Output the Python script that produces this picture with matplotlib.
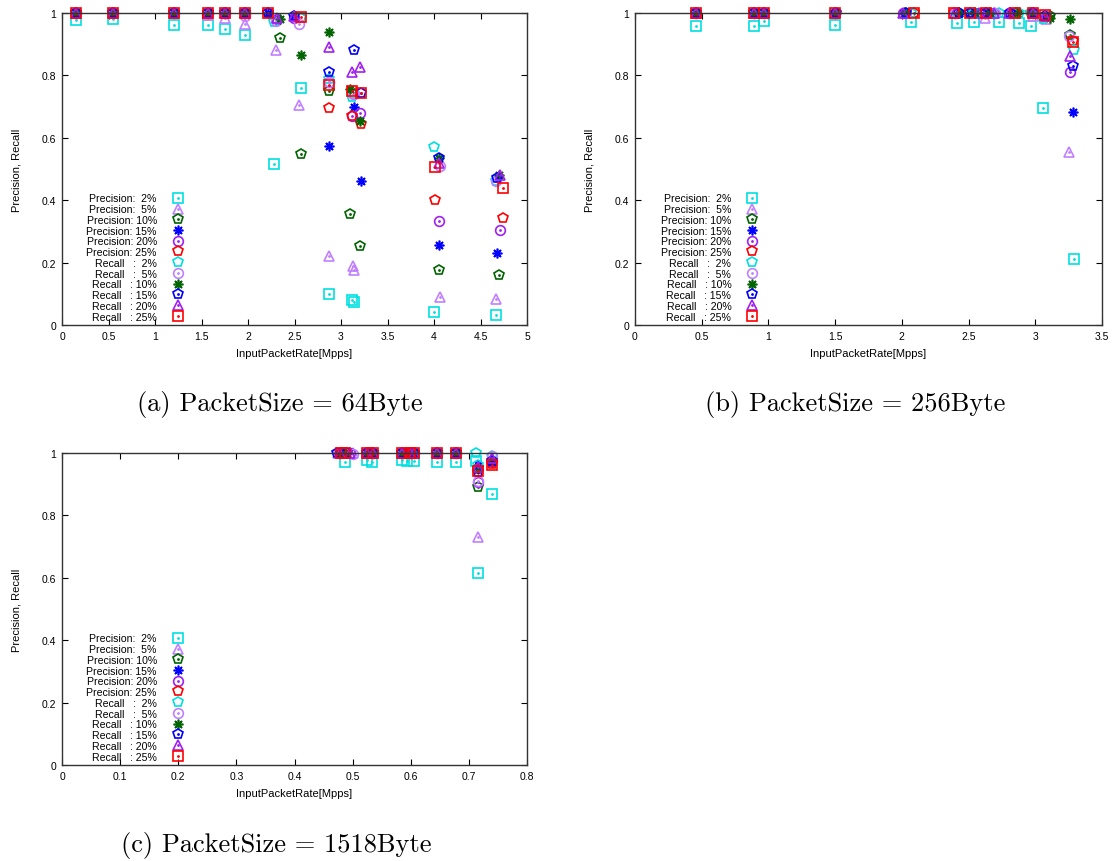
import matplotlib
matplotlib.use("Agg")
import matplotlib.pyplot as plt
from matplotlib.ticker import MultipleLocator, FormatStrFormatter
from matplotlib.legend_handler import HandlerTuple

plt.rcParams['font.family'] = ['Liberation Sans', 'DejaVu Sans']

percents = ['2%', '5%', '10%', '15%', '20%', '25%']

# ---- (a) PacketSize = 64Byte ----
a_x = {
    '2%':  [0.15, 0.55, 1.2, 1.57, 1.75, 1.97, 2.28, 2.57, 2.87, 3.12, 3.14, 4.0, 4.67],
    '5%':  [0.15, 0.55, 1.2, 1.57, 1.75, 1.97, 2.30, 2.55, 2.87, 3.13, 3.14, 4.06, 4.67],
    '10%': [0.15, 0.55, 1.2, 1.57, 1.75, 1.97, 2.34, 2.57, 2.87, 3.10, 3.20, 4.05, 4.70],
    '15%': [0.15, 0.55, 1.2, 1.57, 1.75, 1.97, 2.22, 2.49, 2.87, 3.14, 3.21, 4.05, 4.68],
    '20%': [0.15, 0.55, 1.2, 1.57, 1.75, 1.97, 2.31, 2.49, 2.87, 3.12, 3.20, 4.05, 4.71],
    '25%': [0.15, 0.55, 1.2, 1.57, 1.75, 1.97, 2.22, 2.57, 2.87, 3.12, 3.22, 4.01, 4.74],
}
a_prec = {
    '2%':  [0.977, 0.98, 0.962, 0.96, 0.95, 0.93, 0.516, 0.76, 0.10, 0.08, 0.075, 0.043, 0.032],
    '5%':  [1.0, 1.0, 1.0, 0.995, 0.985, 0.965, 0.88, 0.705, 0.22, 0.19, 0.175, 0.089, 0.083],
    '10%': [1.0, 1.0, 1.0, 1.0, 1.0, 1.0, 0.92, 0.548, 0.75, 0.356, 0.252, 0.177, 0.16],
    '15%': [1.0, 1.0, 1.0, 1.0, 1.0, 1.0, 1.0, 0.99, 0.573, 0.70, 0.46, 0.257, 0.23],
    '20%': [1.0, 1.0, 1.0, 1.0, 1.0, 1.0, 0.98, 0.985, 0.78, 0.67, 0.678, 0.334, 0.304],
    '25%': [1.0, 1.0, 1.0, 1.0, 1.0, 1.0, 1.0, 0.985, 0.695, 0.67, 0.644, 0.40, 0.343],
}
a_rec = {
    '2%':  [1.0, 1.0, 1.0, 1.0, 1.0, 1.0, 0.97, 0.985, 0.79, 0.73, 0.74, 0.572, 0.46],
    '5%':  [1.0, 1.0, 1.0, 1.0, 1.0, 0.99, 0.975, 0.965, 0.78, 0.74, 0.74, 0.51, 0.46],
    '10%': [1.0, 1.0, 1.0, 1.0, 1.0, 1.0, 0.98, 0.865, 0.94, 0.756, 0.655, 0.534, 0.482],
    '15%': [1.0, 1.0, 1.0, 1.0, 1.0, 1.0, 1.0, 0.99, 0.81, 0.882, 0.742, 0.534, 0.47],
    '20%': [1.0, 1.0, 1.0, 1.0, 1.0, 1.0, 0.985, 0.99, 0.89, 0.812, 0.828, 0.52, 0.482],
    '25%': [1.0, 1.0, 1.0, 1.0, 1.0, 1.0, 1.0, 0.987, 0.77, 0.75, 0.742, 0.507, 0.44],
}

# ---- (b) PacketSize = 256Byte ----
b_x = {
    '2%':  [0.46, 0.89, 0.97, 1.50, 2.07, 2.41, 2.54, 2.73, 2.88, 2.97, 3.06, 3.29],
    '5%':  [0.46, 0.89, 0.97, 1.50, 2.03, 2.40, 2.62, 2.70, 2.82, 2.98, 3.08, 3.25],
    '10%': [0.46, 0.89, 0.97, 1.50, 2.02, 2.43, 2.55, 2.66, 2.86, 2.97, 3.11, 3.26],
    '15%': [0.46, 0.89, 0.97, 1.51, 2.03, 2.43, 2.51, 2.63, 2.81, 2.98, 3.07, 3.28],
    '20%': [0.46, 0.89, 0.97, 1.50, 2.01, 2.40, 2.58, 2.69, 2.80, 2.98, 3.07, 3.26],
    '25%': [0.46, 0.89, 0.97, 1.50, 2.09, 2.39, 2.51, 2.63, 2.85, 2.98, 3.07, 3.28],
}
b_prec = {
    '2%':  [0.957, 0.958, 0.973, 0.96, 0.97, 0.967, 0.97, 0.97, 0.967, 0.958, 0.695, 0.21],
    '5%':  [1.0, 1.0, 1.0, 1.0, 1.0, 1.0, 0.985, 1.0, 1.0, 0.99, 0.98, 0.553],
    '10%': [1.0, 1.0, 1.0, 1.0, 1.0, 1.0, 1.0, 1.0, 1.0, 1.0, 0.99, 0.93],
    '15%': [1.0, 1.0, 1.0, 1.0, 1.0, 1.0, 1.0, 1.0, 1.0, 1.0, 0.99, 0.682],
    '20%': [1.0, 1.0, 1.0, 1.0, 1.0, 1.0, 1.0, 1.0, 1.0, 1.0, 0.99, 0.812],
    '25%': [1.0, 1.0, 1.0, 1.0, 1.0, 1.0, 1.0, 1.0, 1.0, 1.0, 0.99, 0.91],
}
b_rec = {
    '2%':  [1.0, 1.0, 1.0, 1.0, 1.0, 1.0, 1.0, 1.0, 1.0, 1.0, 0.98, 0.88],
    '5%':  [1.0, 1.0, 1.0, 1.0, 1.0, 1.0, 1.0, 1.0, 1.0, 1.0, 0.99, 0.925],
    '10%': [1.0, 1.0, 1.0, 1.0, 1.0, 1.0, 1.0, 1.0, 1.0, 1.0, 0.985, 0.98],
    '15%': [1.0, 1.0, 1.0, 1.0, 1.0, 1.0, 1.0, 1.0, 1.0, 1.0, 0.99, 0.831],
    '20%': [1.0, 1.0, 1.0, 1.0, 1.0, 1.0, 1.0, 1.0, 1.0, 1.0, 0.99, 0.863],
    '25%': [1.0, 1.0, 1.0, 1.0, 1.0, 1.0, 1.0, 1.0, 1.0, 1.0, 0.995, 0.908],
}

# ---- (c) PacketSize = 1518Byte ----
c_x = {
    '2%':  [0.487, 0.524, 0.533, 0.585, 0.593, 0.605, 0.646, 0.677, 0.712, 0.715, 0.739],
    '5%':  [0.475, 0.501, 0.524, 0.535, 0.585, 0.599, 0.605, 0.646, 0.677, 0.715, 0.739],
    '10%': [0.480, 0.487, 0.524, 0.535, 0.585, 0.599, 0.605, 0.646, 0.677, 0.715, 0.739],
    '15%': [0.473, 0.490, 0.524, 0.535, 0.585, 0.599, 0.605, 0.646, 0.677, 0.715, 0.739],
    '20%': [0.478, 0.495, 0.524, 0.535, 0.585, 0.599, 0.605, 0.646, 0.677, 0.715, 0.739],
    '25%': [0.480, 0.487, 0.524, 0.535, 0.585, 0.599, 0.605, 0.646, 0.677, 0.715, 0.739],
}
c_prec = {
    '2%':  [0.972, 0.978, 0.97, 0.978, 0.975, 0.975, 0.972, 0.972, 0.975, 0.614, 0.869],
    '5%':  [1.0, 1.0, 1.0, 1.0, 1.0, 1.0, 1.0, 1.0, 1.0, 0.73, 0.98],
    '10%': [1.0, 1.0, 1.0, 1.0, 1.0, 1.0, 1.0, 1.0, 1.0, 0.892, 0.97],
    '15%': [1.0, 1.0, 1.0, 1.0, 1.0, 1.0, 1.0, 1.0, 1.0, 0.962, 0.97],
    '20%': [1.0, 1.0, 1.0, 1.0, 1.0, 1.0, 1.0, 1.0, 1.0, 0.908, 0.975],
    '25%': [1.0, 1.0, 1.0, 1.0, 1.0, 1.0, 1.0, 1.0, 1.0, 0.95, 0.965],
}
c_rec = {
    '2%':  [1.0, 1.0, 1.0, 1.0, 1.0, 1.0, 1.0, 1.0, 1.0, 0.96, 0.99],
    '5%':  [1.0, 0.997, 1.0, 1.0, 1.0, 1.0, 1.0, 1.0, 1.0, 0.91, 0.991],
    '10%': [1.0, 1.0, 1.0, 1.0, 1.0, 1.0, 1.0, 1.0, 1.0, 0.95, 0.975],
    '15%': [1.0, 1.0, 1.0, 1.0, 1.0, 1.0, 1.0, 1.0, 1.0, 0.94, 0.975],
    '20%': [1.0, 1.0, 1.0, 1.0, 1.0, 1.0, 1.0, 1.0, 1.0, 0.955, 0.985],
    '25%': [1.0, 1.0, 1.0, 1.0, 1.0, 1.0, 1.0, 1.0, 1.0, 0.943, 0.96],
}

# gnuplot-like point styles: (color, marker, centre dot)
prec_style = {
    '2%':  ('#00e0e0', 's', True),
    '5%':  ('#c080ff', '^', True),
    '10%': ('#006400', 'p', True),
    '15%': ('#0000ff', (8, 2, 0), False),
    '20%': ('#a020f0', 'o', True),
    '25%': ('#ff0000', 'p', False),
}
rec_style = {
    '2%':  ('#00e0e0', 'p', False),
    '5%':  ('#c080ff', 'o', True),
    '10%': ('#006400', (8, 2, 0), False),
    '15%': ('#0000ff', 'p', True),
    '20%': ('#a020f0', '^', True),
    '25%': ('#ff0000', 's', True),
}


def draw_series(ax, x, y, style):
    color, marker, dot = style
    l1, = ax.plot(x, y, ls='none', marker=marker, ms=7, mfc='none', mec=color,
                  mew=1.2, clip_on=False)
    if dot:
        l2, = ax.plot(x, y, ls='none', marker='.', ms=2, color=color, clip_on=False)
        return (l1, l2)
    return l1


def draw_panel(rect, xs, prec, rec, xmax, xstep, caption, cap_pos, leg_x):
    ax = fig.add_axes(rect)
    handles = []
    labels = []
    for p in percents:
        handles.append(draw_series(ax, xs[p], prec[p], prec_style[p]))
        labels.append('Precision: %3s' % p)
    for p in percents:
        handles.append(draw_series(ax, xs[p], rec[p], rec_style[p]))
        labels.append('Recall   : %3s' % p)

    ax.set_xlim(0, xmax)
    ax.set_ylim(0, 1)
    ax.xaxis.set_major_locator(MultipleLocator(xstep))
    ax.yaxis.set_major_locator(MultipleLocator(0.2))
    ax.xaxis.set_major_formatter(FormatStrFormatter('%g'))
    ax.yaxis.set_major_formatter(FormatStrFormatter('%g'))
    ax.tick_params(direction='in', length=4, width=0.8, labelsize=7.5,
                   top=True, right=True, pad=4)
    for s in ax.spines.values():
        s.set_linewidth(1.0)
        s.set_color('#333333')
    ax.set_xlabel('InputPacketRate[Mpps]', fontsize=8, labelpad=5.5)
    ax.set_ylabel('Precision, Recall', fontsize=8, labelpad=15)

    ax.legend(handles, labels, loc='lower right', bbox_to_anchor=(leg_x, -0.006),
              frameon=False, markerfirst=False, fontsize=7.6, labelspacing=0.07,
              handlelength=1.0, handletextpad=1.5, borderpad=0.0,
              handler_map={tuple: HandlerTuple(ndivide=1)})

    fig.text(cap_pos[0], cap_pos[1], caption, ha='center', va='center',
             fontsize=19, family=['cmr10', 'DejaVu Serif'])
    return ax


fig = plt.figure(figsize=(11.16, 8.62), dpi=100)

W, H = 1116.0, 862.0
draw_panel([62 / W, (H - 326) / H, 465 / W, 312 / H], a_x, a_prec, a_rec, 5, 0.5,
           '(a) PacketSize = 64Byte', (280 / W, 1 - 405 / H), 0.272)
draw_panel([635 / W, (H - 326) / H, 467 / W, 312 / H], b_x, b_prec, b_rec, 3.5, 0.5,
           '(b) PacketSize = 256Byte', (855 / W, 1 - 405 / H), 0.274)
draw_panel([62 / W, (H - 766) / H, 465 / W, 312 / H], c_x, c_prec, c_rec, 0.8, 0.1,
           '(c) PacketSize = 1518Byte', (276 / W, 1 - 846 / H), 0.272)

fig.savefig('out.png', dpi=100)
